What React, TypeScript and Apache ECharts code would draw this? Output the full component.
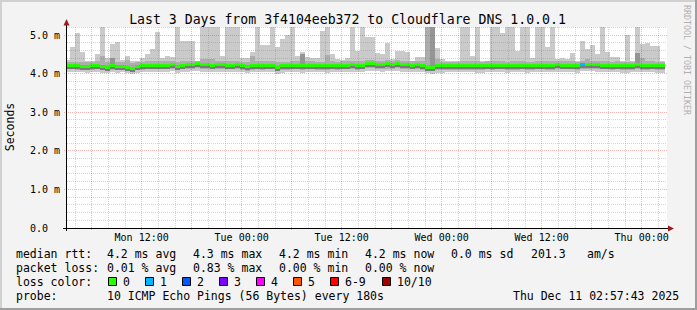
import React, { useEffect, useRef } from "react";
import * as echarts from "echarts";

const W = 697;
const H = 310;
const MONO = '"DejaVu Sans Mono", monospace';

// x axis: hours since Mon 00:00
const X_MIN = 3.04;
const X_MAX = 75.04;
const Y_MAX = 5.21;
const COL_START = 2.8;
const COL_STEP = 0.6;

const xTickHours = [12, 24, 36, 48, 60, 72];
const xTickLabels = ["Mon 12:00", "Tue 00:00", "Tue 12:00", "Wed 00:00", "Wed 12:00", "Thu 00:00"];
const yTickValues = [0, 1, 2, 3, 4, 5];
const yTickLabels = ["0.0", "1.0 m", "2.0 m", "3.0 m", "4.0 m", "5.0 m"];

const xMajorGrid = [6, 12, 18, 24, 30, 36, 42, 48, 54, 60, 66, 72];
const xMinorGrid = [4, 8, 10, 14, 16, 20, 22, 26, 28, 32, 34, 38, 40, 44, 46, 50, 52, 56, 58, 62, 64, 68, 70, 74];
const yMajorGrid = [1, 2, 3, 4, 5];
const yMinorGrid = [0.2, 0.4, 0.6, 0.8, 1.2, 1.4, 1.6, 1.8, 2.2, 2.4, 2.6, 2.8, 3.2, 3.4, 3.6, 3.8, 4.2, 4.4, 4.6, 4.8, 5.2];

// smoke: ms values per 36-minute column
const smokeMax = [
  4.35, 4.69, 5.05, 4.56, 4.32, 4.32, 4.51, 5.3, 4.4, 4.78,
  4.82, 4.36, 4.46, 4.32, 4.32, 4.4, 4.51, 4.65, 5.08, 4.4,
  4.47, 4.43, 5.3, 4.86, 4.86, 4.86, 4.32, 5.3, 5.3, 5.3,
  5.3, 4.45, 5.3, 5.3, 5.3, 4.4, 4.4, 4.55, 5.3, 4.75,
  4.75, 5.3, 4.7, 4.9, 5.0, 5.3, 4.45, 4.55, 4.42, 4.4,
  4.4, 5.1, 5.3, 4.5, 4.38, 4.35, 4.4, 5.3, 4.6, 5.3,
  4.95, 4.95, 4.53, 4.52, 4.79, 4.39, 4.6, 4.58, 4.56, 4.34,
  4.43, 4.43, 5.3, 5.3, 4.66, 4.39, 4.34, 4.34, 4.34, 5.3,
  5.3, 4.47, 5.3, 4.32, 4.32, 5.3, 5.3, 5.05, 5.3, 5.3,
  4.58, 5.3, 5.3, 4.4, 5.3, 5.3, 4.69, 5.3, 4.39, 4.4,
  4.39, 4.53, 4.32, 4.86, 4.65, 4.75, 4.52, 5.3, 4.56, 4.43,
  4.43, 4.32, 5.01, 4.32, 5.3, 4.78, 4.79, 4.73, 4.72, 4.32,
];
const smokeMidHi = [
  4.31, 4.31, 4.31, 4.3, 4.3, 4.31, 4.32, 4.45, 4.3, 4.33,
  4.31, 4.31, 4.36, 4.28, 4.3, 4.31, 4.32, 4.32, 4.33, 4.32,
  4.32, 4.33, 4.3, 4.32, 4.33, 4.33, 4.34, 4.38, 4.38, 4.38,
  4.33, 4.33, 4.32, 4.32, 4.33, 4.31, 4.3, 4.45, 4.33, 4.32,
  4.32, 4.32, 4.29, 4.31, 4.31, 4.32, 4.32, 4.33, 4.32, 4.32,
  4.31, 4.31, 4.48, 4.32, 4.31, 4.32, 4.32, 4.33, 4.32, 4.33,
  4.35, 4.35, 4.34, 4.33, 4.35, 4.34, 4.35, 4.33, 4.33, 4.32,
  4.33, 4.32, 5.3, 4.35, 4.38, 4.31, 4.31, 4.31, 4.31, 4.32,
  4.32, 4.32, 4.32, 4.3, 4.32, 4.32, 4.33, 4.33, 4.31, 4.32,
  4.32, 4.33, 4.31, 4.31, 4.33, 4.33, 4.32, 4.32, 4.33, 4.32,
  4.32, 4.32, 4.31, 4.33, 4.38, 4.34, 4.33, 4.33, 4.32, 4.31,
  4.32, 4.3, 4.3, 4.31, 4.36, 4.4, 4.32, 4.32, 4.3, 4.3,
];
const medianRtt = [
  4.2, 4.2, 4.2, 4.18, 4.18, 4.2, 4.21, 4.18, 4.15, 4.2,
  4.18, 4.18, 4.16, 4.13, 4.18, 4.2, 4.21, 4.21, 4.21, 4.21,
  4.21, 4.23, 4.18, 4.21, 4.23, 4.23, 4.25, 4.23, 4.23, 4.21,
  4.22, 4.22, 4.21, 4.21, 4.22, 4.2, 4.18, 4.2, 4.21, 4.2,
  4.21, 4.21, 4.15, 4.19, 4.2, 4.21, 4.21, 4.2, 4.21, 4.21,
  4.2, 4.2, 4.19, 4.21, 4.2, 4.21, 4.21, 4.22, 4.2, 4.21,
  4.24, 4.24, 4.23, 4.22, 4.24, 4.23, 4.24, 4.22, 4.22, 4.21,
  4.22, 4.2, 4.16, 4.15, 4.19, 4.19, 4.2, 4.2, 4.2, 4.2,
  4.2, 4.2, 4.2, 4.19, 4.21, 4.2, 4.21, 4.21, 4.19, 4.2,
  4.2, 4.21, 4.19, 4.2, 4.21, 4.21, 4.2, 4.2, 4.22, 4.21,
  4.21, 4.21, 4.19, 4.22, 4.23, 4.23, 4.22, 4.21, 4.21, 4.2,
  4.21, 4.19, 4.19, 4.2, 4.22, 4.2, 4.2, 4.21, 4.19, 4.19,
];
const smokeMidLo = [
  4.11, 4.11, 4.1, 4.09, 4.09, 4.1, 4.11, 4.09, 4.06, 4.1,
  4.09, 4.09, 4.07, 4.04, 4.09, 4.1, 4.11, 4.11, 4.11, 4.11,
  4.11, 4.13, 4.09, 4.11, 4.13, 4.13, 4.14, 4.13, 4.12, 4.11,
  4.12, 4.12, 4.11, 4.11, 4.12, 4.1, 4.08, 4.1, 4.11, 4.1,
  4.11, 4.11, 4.06, 4.09, 4.1, 4.11, 4.11, 4.1, 4.11, 4.11,
  4.1, 4.1, 4.09, 4.11, 4.1, 4.11, 4.11, 4.12, 4.1, 4.11,
  4.14, 4.14, 4.13, 4.12, 4.13, 4.13, 4.14, 4.12, 4.12, 4.11,
  4.12, 4.1, 4.07, 4.06, 4.09, 4.09, 4.1, 4.1, 4.1, 4.1,
  4.1, 4.1, 4.1, 4.09, 4.11, 4.1, 4.11, 4.11, 4.09, 4.1,
  4.1, 4.11, 4.09, 4.1, 4.11, 4.11, 4.1, 4.1, 4.12, 4.11,
  4.11, 4.11, 4.09, 4.12, 4.13, 4.13, 4.12, 4.11, 4.11, 4.1,
  4.11, 4.09, 4.09, 4.1, 4.12, 4.1, 4.1, 4.11, 4.09, 4.09,
];
const smokeMin = [
  4.05, 4.05, 4.04, 4.04, 4.03, 4.04, 4.05, 4.03, 4.01, 4.04,
  4.03, 4.04, 4.02, 4.0, 4.03, 4.04, 4.05, 4.04, 4.05, 4.05,
  4.04, 4.06, 4.02, 4.05, 4.05, 4.06, 4.06, 4.05, 4.05, 4.04,
  4.05, 4.05, 4.04, 4.04, 4.05, 4.04, 4.02, 4.04, 4.04, 4.04,
  4.05, 4.04, 4.0, 4.03, 4.04, 4.05, 4.04, 4.03, 4.04, 4.04,
  4.04, 4.04, 4.03, 4.05, 4.04, 4.05, 4.05, 4.05, 4.04, 4.05,
  4.07, 4.07, 4.06, 4.05, 4.06, 4.06, 4.06, 4.05, 4.05, 4.04,
  4.05, 4.04, 4.01, 4.0, 4.03, 4.03, 4.04, 4.04, 4.04, 4.04,
  4.04, 4.04, 4.03, 4.03, 4.04, 4.04, 4.05, 4.04, 4.03, 4.04,
  4.04, 4.04, 4.03, 4.04, 4.05, 4.04, 4.04, 4.04, 4.05, 4.04,
  4.05, 4.05, 4.03, 4.06, 4.06, 4.06, 4.05, 4.04, 4.05, 4.04,
  4.04, 4.03, 4.03, 4.04, 4.05, 4.04, 4.04, 4.05, 4.03, 4.03,
];
// columns whose darker smoke reaches higher
const darkCols = [9, 47, 73, 114];
const darkTops = [4.4, 4.52, 5.3, 4.53];
// columns with packet loss (count of 10)
const lossCols = [103];
const lossCounts = [1];

const lossLabels = ["0", "1", "2", "3", "4", "5", "6-9", "10/10"];
const lossColors = ["#26ff00", "#00b8ff", "#0059ff", "#7e00ff", "#ff00ff", "#ff5500", "#ff0000", "#a10000"];

const legendRtt = ["median rtt:", "4.2 ms avg", "4.3 ms max", "4.2 ms min", "4.2 ms now", "0.0 ms sd", "201.3", "am/s"];
const legendLoss = ["packet loss:", "0.01 % avg", "0.83 % max", "0.00 % min", "0.00 % now"];
const probeText = ["probe:", "10 ICMP Echo Pings (56 Bytes) every 180s", "Thu Dec 11 02:57:43 2025"];
const titleText = "Last 3 Days from 3f4104eeb372 to Cloudflare DNS 1.0.0.1";

const LIGHT = "#cacaca";
const MID = "#adadad";
const DARK = "#959595";
const MAJOR = "rgba(225,30,30,0.33)";
const MINOR = "rgba(120,120,120,0.3)";
const ARROW = "#9b1c1c";

function lossColorIndex(n: number) {
  if (n <= 5) return n;
  if (n < 10) return 6;
  return 7;
}

function buildOption() {
  const smokeData = smokeMax.map((mx, i) => {
    const d = darkCols.indexOf(i);
    const l = lossCols.indexOf(i);
    return [
      COL_START + COL_STEP * i,
      mx,
      smokeMidHi[i],
      smokeMidLo[i],
      smokeMin[i],
      medianRtt[i],
      l >= 0 ? lossCounts[l] : 0,
      d >= 0 ? darkTops[d] : 0,
    ];
  });

  const vGridData = [...xMinorGrid.map((t) => [t, 0]), ...xMajorGrid.map((t) => [t, 1])];
  const hGridData = [...yMinorGrid.map((v) => [0, v]), ...yMajorGrid.map((v) => [1, v])];

  const renderSmoke = (params: any, api: any) => {
    const t = api.value(0);
    const t0 = Math.max(t, X_MIN);
    const t1 = Math.min(t + COL_STEP, X_MAX);
    const box = (lo: number, hi: number, fill: string) => {
      const a = api.coord([t0, Math.min(hi, Y_MAX)]);
      const b = api.coord([t1, lo]);
      const x0 = Math.round(a[0]);
      const x1 = Math.round(b[0]);
      const y0 = Math.round(a[1]);
      const y1 = Math.round(b[1]);
      return { type: "rect", shape: { x: x0, y: y0, width: x1 - x0, height: y1 - y0 }, style: { fill } };
    };
    const children: any[] = [box(api.value(4), api.value(1), LIGHT), box(api.value(3), api.value(2), MID)];
    const dark = api.value(7);
    if (dark > 0) children.push(box(api.value(5), dark, DARK));
    const m0 = api.coord([t0, api.value(5)]);
    const m1 = api.coord([t1, api.value(5)]);
    const x0 = Math.round(m0[0]);
    const x1 = Math.round(m1[0]);
    const ym = Math.round(m0[1]);
    children.push({ type: "rect", shape: { x: x0, y: ym + 1, width: x1 - x0, height: 2 }, style: { fill: "#7a7a7a" } });
    children.push({
      type: "rect",
      shape: { x: x0, y: ym - 2, width: x1 - x0, height: 3 },
      style: { fill: lossColors[lossColorIndex(api.value(6))] },
    });
    return { type: "group", children };
  };

  const renderVGrid = (params: any, api: any) => {
    const t = api.value(0);
    const major = api.value(1) === 1;
    const top = api.coord([t, Y_MAX]);
    const bot = api.coord([t, 0]);
    const x = Math.floor(top[0]) + 0.5;
    return {
      type: "line",
      shape: { x1: x, y1: Math.round(top[1]), x2: x, y2: Math.round(bot[1]) + (major ? 3 : 0) },
      style: { stroke: major ? MAJOR : MINOR, lineWidth: 1, lineDash: [1, 1] },
    };
  };

  const renderHGrid = (params: any, api: any) => {
    const major = api.value(0) === 1;
    const v = api.value(1);
    const l = api.coord([X_MIN, v]);
    const r = api.coord([X_MAX, v]);
    const y = Math.floor(l[1]) + 0.5;
    return {
      type: "line",
      shape: { x1: Math.round(l[0]) - (major ? 3 : 0), y1: y, x2: Math.round(r[0]), y2: y },
      style: { stroke: major ? MAJOR : MINOR, lineWidth: 1, lineDash: [1, 1] },
    };
  };

  const legendX1 = [16, 107, 193, 279, 365, 451, 531, 587];
  const texts: any[] = [];
  const addText = (text: string, x: number, y: number, size: number, extra: any = {}) => {
    texts.push({
      type: "text",
      x,
      y,
      z: 100,
      silent: true,
      style: {
        text,
        fill: extra.fill || "#000000",
        font: `${size}px ${MONO}`,
        textAlign: extra.align || "left",
        textVerticalAlign: "middle",
      },
      rotation: extra.rotation || 0,
    });
  };
  legendRtt.forEach((s, i) => addText(s, legendX1[i], 253.8, 11.5));
  legendLoss.forEach((s, i) => addText(s, legendX1[i], 267.8, 11.5));
  addText("loss color:", 16, 281.8, 11.5);
  const boxX = [108, 145, 182, 219, 256, 293, 330, 382];
  const boxes: any[] = lossLabels.map((lab, i) => ({
    type: "rect",
    z: 100,
    silent: true,
    shape: { x: boxX[i] + 0.5, y: 277.5, width: 8, height: 8 },
    style: { fill: lossColors[i], stroke: "#000000", lineWidth: 1 },
  }));
  lossLabels.forEach((lab, i) => addText(lab, boxX[i] + 15, 281.8, 11.5));
  addText(probeText[0], 16, 295.8, 11.5);
  addText(probeText[1], 107, 295.8, 11.5);
  addText(probeText[2], 513, 295.8, 11.5);
  addText(titleText, 347.5, 19.5, 13.2, { align: "center" });
  addText("Seconds", 10, 127, 11.5, { align: "center", rotation: Math.PI / 2 });
  addText("RRDTOOL / TOBI OETIKER", 686.5, 60, 8.3, { align: "center", rotation: -Math.PI / 2, fill: "#b0b0b0" });

  const frame: any[] = [
    { type: "rect", z: 90, silent: true, shape: { x: 0, y: 0, width: W, height: 2 }, style: { fill: "#d0d0d0" } },
    { type: "rect", z: 90, silent: true, shape: { x: 0, y: 0, width: 2, height: H }, style: { fill: "#d0d0d0" } },
    { type: "rect", z: 91, silent: true, shape: { x: W - 2, y: 0, width: 2, height: H }, style: { fill: "#9e9e9e" } },
    { type: "rect", z: 91, silent: true, shape: { x: 0, y: H - 2, width: W, height: 2 }, style: { fill: "#9e9e9e" } },
    // axis lines
    { type: "line", z: 95, silent: true, shape: { x1: 66.5, y1: 231, x2: 66.5, y2: 22 }, style: { stroke: "#000000", lineWidth: 1 } },
    { type: "line", z: 95, silent: true, shape: { x1: 63, y1: 228.5, x2: 669, y2: 228.5 }, style: { stroke: "#000000", lineWidth: 1 } },
    { type: "polygon", z: 96, silent: true, shape: { points: [[63.5, 25.5], [66.5, 19], [69.5, 25.5]] }, style: { fill: ARROW } },
    { type: "polygon", z: 96, silent: true, shape: { points: [[668, 225.5], [674, 228.5], [668, 231.5]] }, style: { fill: ARROW } },
  ];

  return {
    animation: false,
    backgroundColor: "#f3f3f3",
    grid: { left: 67, top: 27, width: 600, height: 201, show: true, backgroundColor: "#ffffff", borderWidth: 0 },
    xAxis: {
      type: "value",
      min: X_MIN,
      max: X_MAX,
      axisLine: { show: false },
      axisTick: { show: false },
      splitLine: { show: false },
      axisLabel: {
        customValues: xTickHours,
        formatter: (v: number) => {
          const i = xTickHours.indexOf(Math.round(v));
          return i >= 0 && Math.abs(v - xTickHours[i]) < 1e-6 ? xTickLabels[i] : "";
        },
        margin: 4,
        fontFamily: MONO,
        fontSize: 10,
        color: "#000000",
      },
    },
    yAxis: {
      type: "value",
      min: 0,
      max: Y_MAX,
      interval: 1,
      axisLine: { show: false },
      axisTick: { show: false },
      splitLine: { show: false },
      axisLabel: {
        formatter: (v: number) => {
          const i = yTickValues.indexOf(v);
          return i >= 0 ? yTickLabels[i] : "";
        },
        align: "left",
        margin: 37,
        fontFamily: MONO,
        fontSize: 10,
        color: "#000000",
      },
    },
    series: [
      {
        type: "custom",
        name: "smoke",
        coordinateSystem: "cartesian2d",
        encode: { x: 0, y: 1 },
        data: smokeData,
        renderItem: renderSmoke,
        silent: true,
        z: 2,
      },
      {
        type: "custom",
        name: "vgrid",
        coordinateSystem: "cartesian2d",
        encode: { x: 0, y: 1 },
        data: vGridData,
        renderItem: renderVGrid,
        silent: true,
        z: 3,
      },
      {
        type: "custom",
        name: "hgrid",
        coordinateSystem: "cartesian2d",
        encode: { x: 0, y: 1 },
        data: hGridData,
        renderItem: renderHGrid,
        silent: true,
        z: 3,
      },
    ],
    graphic: { elements: [...frame, ...boxes, ...texts] },
  };
}

export default function App() {
  const ref = useRef<HTMLDivElement>(null);
  useEffect(() => {
    document.body.style.margin = "0";
    const chart = echarts.init(ref.current!, null, { renderer: "svg", width: W, height: H });
    chart.setOption(buildOption() as any);
    return () => chart.dispose();
  }, []);
  return <div ref={ref} style={{ width: W, height: H }} />;
}
